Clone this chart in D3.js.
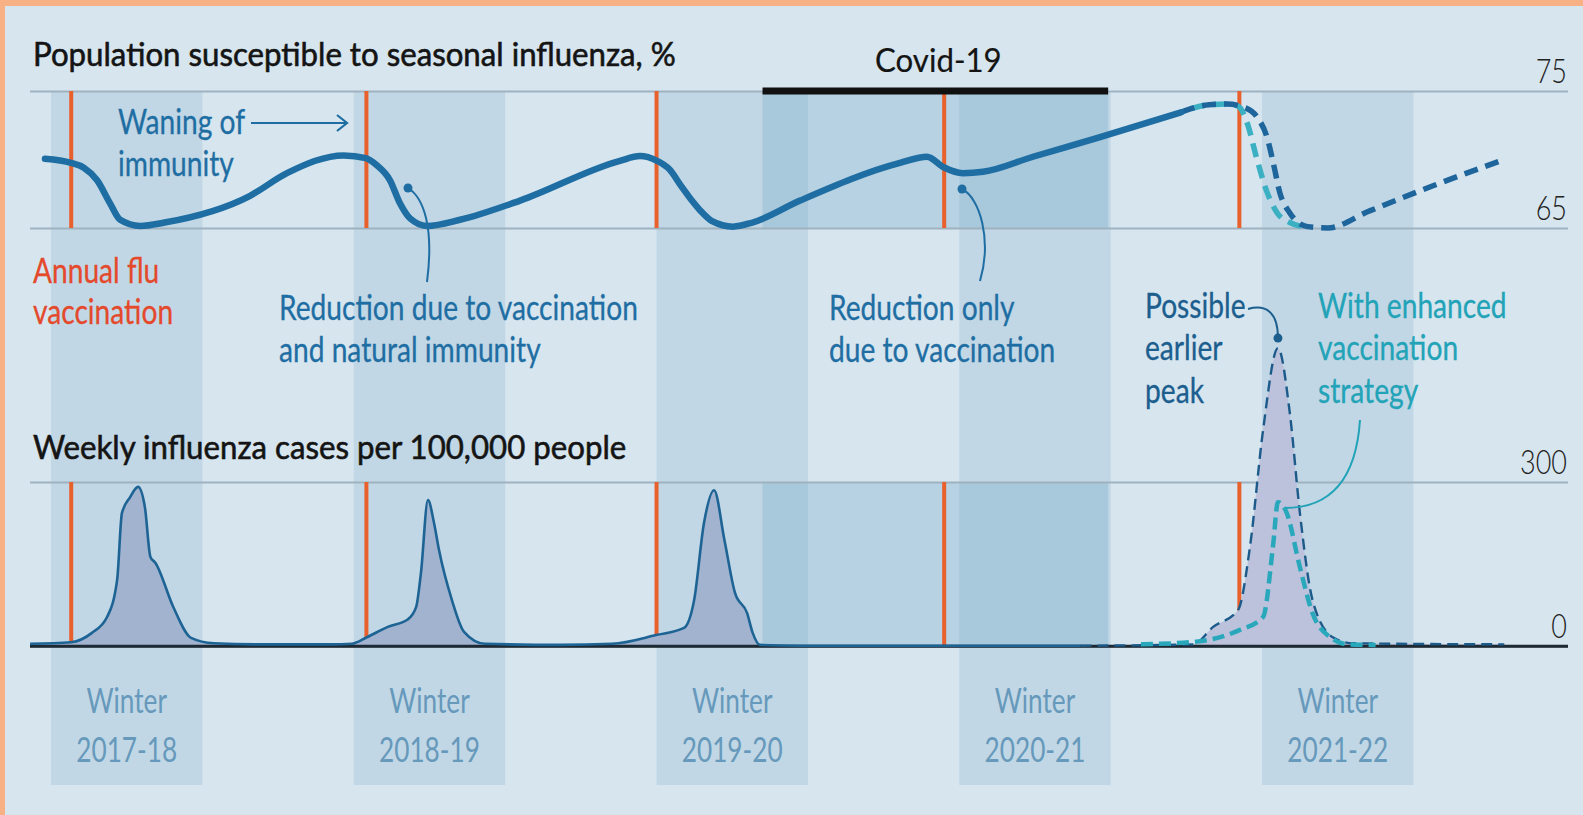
<!DOCTYPE html>
<html>
<head>
<meta charset="utf-8">
<script src="https://cdn.jsdelivr.net/npm/d3@7"></script>
<style>
  body { margin: 0; background: #d6e5ee; }
  svg { display: block; }
  text { font-family: "Lato", "Open Sans", sans-serif; }
  .title { font-size: 33px; font-weight: 400; fill: #141414; stroke: #141414; stroke-width: 0.6px; }
  .note { font-size: 34px; font-weight: 400; stroke-width: 0.3px; }
  .winter { font-size: 35px; font-weight: 400; fill: #6699bb; text-anchor: middle; }
  .axis text { font-size: 34px; font-weight: 300; fill: #222; }
</style>
</head>
<body>
<svg id="chart" width="1583" height="815"></svg>
<script>
// time is in months since October 2017
const winterSeasons = ["2017-18", "2018-19", "2019-20", "2020-21", "2021-22"];
const winterStart = [1, 13, 25, 37, 49];   // November
const winterLength = 6;
const vaccinationMonth = [1.8, 13.5, 25.0, 36.4, 48.1];
const covidSpan = [29.2, 42.9];

const topTicks = [65, 75];
const bottomTicks = [0, 300];

// population susceptible, %
const susceptible = [
  [0.76, 70.05], [1.79, 69.75], [2.3, 69.4], [2.82, 68.5], [3.34, 66.8], [3.74, 65.6],
  [4.53, 65.15], [5.5, 65.4], [8.89, 67.35], [10.35, 69.0], [12.6, 70.3], [13.48, 70.1],
  [13.9, 69.6], [14.43, 68.5], [14.83, 66.8], [15.23, 65.7], [15.9, 65.15], [17.21, 65.6],
  [19.59, 67.0], [23.55, 69.9], [24.34, 70.25], [25.02, 69.9], [25.5, 69.3], [26.0, 68.0],
  [26.4, 67.0], [26.72, 66.3], [27.2, 65.5], [28.03, 65.1], [28.8, 65.4], [30.69, 67.0],
  [34.65, 69.75], [35.72, 70.2], [36.36, 69.45], [37.14, 69.0], [37.94, 69.1], [39.92, 70.2],
  [42.58, 71.64], [45.79, 73.45]
];
const susceptibleEarlyPeak = [
  [45.79, 73.45], [46.9, 74.0], [47.6, 74.05], [48.3, 73.8], [48.8, 73.1], [49.2, 71.6],
  [49.45, 69.7], [49.7, 67.6], [50.1, 66.1], [50.8, 65.1], [51.6, 65.0], [53.2, 66.2],
  [55.8, 68.1], [58.6, 70.0]
];
const susceptibleEnhanced = [
  [45.79, 73.45], [46.9, 74.0], [47.6, 74.05], [48.05, 73.9], [48.41, 72.66], [48.8, 70.0],
  [49.2, 67.6], [49.6, 66.1], [50.1, 65.4], [50.6, 65.1]
];

// weekly cases per 100,000
const cases = [
  [0.17, 4], [1.79, 7], [2.62, 24], [3.22, 53], [3.62, 121], [3.81, 243], [4.13, 272],
  [4.45, 291], [4.72, 254], [4.94, 163], [5.14, 152], [5.85, 71], [6.55, 15], [7.46, 5],
  [9.08, 3], [12.06, 3], [12.93, 4], [13.52, 16], [14.35, 35], [15.15, 49], [15.47, 71],
  [15.66, 133], [15.94, 267], [16.18, 225], [16.38, 175], [16.89, 84], [17.37, 26], [18.2, 4],
  [21.2, 2], [23.23, 4], [24.98, 20], [26.09, 33], [26.49, 84], [26.88, 225], [27.28, 285],
  [27.69, 194], [28.11, 97], [28.59, 60], [28.81, 24], [29.1, 2], [30.7, 0.5], [41.8, 0.5]
];
const casesEarlyPeak = [
  [41.8, 0.5], [46.27, 3], [47.06, 35], [48.05, 66], [48.52, 181], [49.04, 395], [49.63, 545],
  [50.1, 426], [50.5, 243], [51.0, 84], [51.8, 16], [52.6, 5], [58.6, 3]
];
const casesEnhanced = [
  [44.2, 3], [46.4, 8], [48.1, 29], [49.04, 53], [49.43, 181], [49.63, 263], [49.98, 243],
  [50.5, 144], [51.0, 60], [51.7, 16], [52.4, 3], [53.5, 2]
];

const W = 1583, H = 815;
const left = 30, right = 1568;
const svg = d3.select("#chart");

const x = d3.scaleLinear().domain([0, 60]).range([25.8, 1539.6]);
const yTop = d3.scaleLinear().domain([65, 75]).range([228, 91]);
const yBot = d3.scaleLinear().domain([0, 300]).range([646, 482]);

const BLUE = "#1f6ea3", TEAL = "#2aa8bb", ORANGE = "#e8602c", DARK = "#1c5a8a";

// horizontal squeeze per text style, so the sans font reads condensed like the original
function squeeze(cls, str, target) {
  const p = svg.append("text").attr("class", cls).text(str);
  const w = p.node().getComputedTextLength();
  p.remove();
  return Math.max(0.6, Math.min(1.15, target / w));
}
const sxs = {
  title: squeeze("title", "Population susceptible to seasonal influenza, %", 643),
  note: squeeze("note", "Reduction due to vaccination", 359),
  winter: squeeze("winter", "2021-22", 101)
};
const axisProbe = svg.append("g").attr("class", "axis");
const sxAxis = (() => {
  const p = axisProbe.append("text").text("300");
  const w = p.node().getComputedTextLength();
  axisProbe.remove();
  return Math.max(0.6, Math.min(1.15, 47 / w));
})();

// one text element per label, lines as tspans
function label(parent, px, py, lines, cls, fill, lineGap = 42) {
  const t = parent.append("text")
    .attr("class", cls)
    .attr("transform", `translate(${px},${py}) scale(${sxs[cls]},1)`);
  [].concat(lines).forEach((s, i) => {
    t.append("tspan").attr("x", 0).attr("y", i * lineGap).text(s);
  });
  if (fill) t.attr("fill", fill).attr("stroke", fill);
  return t;
}

// background and border
svg.append("rect").attr("width", W).attr("height", H).attr("fill", "#d6e5ee");
svg.append("rect").attr("width", W).attr("height", 6).attr("fill", "#f7b185");
svg.append("rect").attr("width", 5).attr("height", H).attr("fill", "#f7b185");

// winter bands
svg.append("g").selectAll("rect")
  .data(winterStart)
  .join("rect")
  .attr("x", d => x(d))
  .attr("width", d => x(d + winterLength) - x(d))
  .attr("y", 91)
  .attr("height", 785 - 91)
  .attr("fill", "#c1d7e5");

// covid shading, only inside the two panels
const covid = svg.append("g");
[[yTop(75), yTop(65)], [yBot(300), yBot(0)]].forEach(([a, b]) => {
  covid.append("rect")
    .attr("x", x(covidSpan[0]))
    .attr("width", x(covidSpan[1]) - x(covidSpan[0]))
    .attr("y", a)
    .attr("height", b - a)
    .attr("fill", "#6fa6c8")
    .attr("opacity", 0.3);
});

// gridlines + right labels
function gridAxis(scale, ticks) {
  const g = svg.append("g")
    .attr("class", "axis")
    .attr("transform", `translate(${right},0)`)
    .call(d3.axisLeft(scale).tickValues(ticks).tickSize(right - left).tickFormat(d3.format("d")));
  g.select(".domain").remove();
  g.selectAll(".tick line").attr("stroke", "#9fb2bf").attr("stroke-width", 2);
  g.selectAll(".tick text")
    .attr("x", null).attr("dy", null)
    .attr("transform", `translate(-1,-9) scale(${sxAxis},1)`)
    .attr("text-anchor", "end");
  return g;
}
gridAxis(yTop, topTicks);
const botAxis = gridAxis(yBot, bottomTicks);
botAxis.selectAll(".tick").filter(d => d === 0).select("line")
  .attr("stroke", "#1e2a33").attr("stroke-width", 2.5);

// vaccination lines
const vacc = svg.append("g");
vacc.selectAll(".vt").data(vaccinationMonth).join("line")
  .attr("x1", d => x(d)).attr("x2", d => x(d))
  .attr("y1", yTop(75)).attr("y2", yTop(65))
  .attr("stroke", ORANGE).attr("stroke-width", 4);
vacc.selectAll(".vb").data(vaccinationMonth).join("line")
  .attr("x1", d => x(d)).attr("x2", d => x(d))
  .attr("y1", yBot(300)).attr("y2", yBot(0))
  .attr("stroke", ORANGE).attr("stroke-width", 4);

// bottom panel: cases
const lineBot = d3.line().x(d => x(d[0])).y(d => yBot(d[1])).curve(d3.curveMonotoneX);
const areaBot = d3.area().x(d => x(d[0])).y0(yBot(0)).y1(d => yBot(d[1])).curve(d3.curveMonotoneX);

svg.append("path").attr("d", areaBot(casesEarlyPeak)).attr("fill", "#bcc2dc");
svg.append("path").attr("d", areaBot(cases)).attr("fill", "#a2b3d0");
svg.append("line")
  .attr("x1", left).attr("x2", right).attr("y1", yBot(0)).attr("y2", yBot(0))
  .attr("stroke", "#1e2a33").attr("stroke-width", 2.5);
svg.append("path").attr("d", lineBot(cases))
  .attr("fill", "none").attr("stroke", "#1d6495").attr("stroke-width", 2.6);
svg.append("path").attr("d", lineBot(casesEarlyPeak))
  .attr("fill", "none").attr("stroke", DARK).attr("stroke-width", 2.4)
  .attr("stroke-dasharray", "11,6");
svg.append("path").attr("d", lineBot(casesEnhanced))
  .attr("fill", "none").attr("stroke", TEAL).attr("stroke-width", 4.5)
  .attr("stroke-dasharray", "12,6");

// top panel: susceptibility
const lineTop = d3.line().x(d => x(d[0])).y(d => yTop(d[1])).curve(d3.curveMonotoneX);
svg.append("path").attr("d", lineTop(susceptibleEnhanced))
  .attr("fill", "none").attr("stroke", "#3bb0c3").attr("stroke-width", 5.5)
  .attr("stroke-dasharray", "14,8").attr("stroke-dashoffset", 11);
svg.append("path").attr("d", lineTop(susceptibleEarlyPeak))
  .attr("fill", "none").attr("stroke", "#1e659c").attr("stroke-width", 5.5)
  .attr("stroke-dasharray", "14,8");
svg.append("path").attr("d", lineTop(susceptible))
  .attr("fill", "none").attr("stroke", BLUE).attr("stroke-width", 6.5)
  .attr("stroke-linecap", "round");

// covid bar
svg.append("line")
  .attr("x1", x(covidSpan[0])).attr("x2", x(covidSpan[1]))
  .attr("y1", yTop(75)).attr("y2", yTop(75))
  .attr("stroke", "#111").attr("stroke-width", 7);
label(svg, (x(covidSpan[0]) + x(covidSpan[1])) / 2 + 3, 72, "Covid-19", "title")
  .attr("text-anchor", "middle").style("stroke-width", "0.2px");

// titles
label(svg, 33, 66, "Population susceptible to seasonal influenza, %", "title");
label(svg, 33, 459, "Weekly influenza cases per 100,000 people", "title");

// winter labels
const wl = svg.append("g");
winterSeasons.forEach((s, i) => {
  const cx = x(winterStart[i] + winterLength / 2);
  label(wl, cx, 713, ["Winter", s], "winter", null, 49);
});

// annotations
const ann = svg.append("g");
label(ann, 118, 134, ["Waning of", "immunity"], "note", BLUE);
ann.append("line").attr("x1", 251).attr("x2", 346).attr("y1", 123).attr("y2", 123)
  .attr("stroke", BLUE).attr("stroke-width", 2.2);
ann.append("path").attr("d", "M337,115 L347,123 L337,131")
  .attr("fill", "none").attr("stroke", BLUE).attr("stroke-width", 2.2);

label(ann, 33, 283, ["Annual flu", "vaccination"], "note", "#e4492c", 41.5);

label(ann, 279, 320, ["Reduction due to vaccination", "and natural immunity"], "note", BLUE);
ann.append("path").attr("d", "M408,188 C424,198 434,228 427,282")
  .attr("fill", "none").attr("stroke", BLUE).attr("stroke-width", 2);
ann.append("circle").attr("cx", 408).attr("cy", 188).attr("r", 4.5).attr("fill", BLUE);

label(ann, 829, 320, ["Reduction only", "due to vaccination"], "note", BLUE);
ann.append("path").attr("d", "M962,189 C980,198 992,240 980,281")
  .attr("fill", "none").attr("stroke", BLUE).attr("stroke-width", 2);
ann.append("circle").attr("cx", 962).attr("cy", 189).attr("r", 4.5).attr("fill", BLUE);

label(ann, 1145, 318, ["Possible", "earlier", "peak"], "note", "#1c5e8e", 42.5);
const peakX = x(49.63), peakY = yBot(545) - 10;
ann.append("path").attr("d", `M1248,309 C1266,304 ${peakX},312 ${peakX},${peakY}`)
  .attr("fill", "none").attr("stroke", "#1c5e8e").attr("stroke-width", 2);
ann.append("circle").attr("cx", peakX).attr("cy", peakY).attr("r", 4.5).attr("fill", "#1c5e8e");

label(ann, 1318, 318, ["With enhanced", "vaccination", "strategy"], "note", "#22a3b8", 42.5);
ann.append("path").attr("d", `M1360,420 C1356,480 1330,508 ${x(49.75) + 4},508`)
  .attr("fill", "none").attr("stroke", "#22a3b8").attr("stroke-width", 2);
</script>
</body>
</html>
